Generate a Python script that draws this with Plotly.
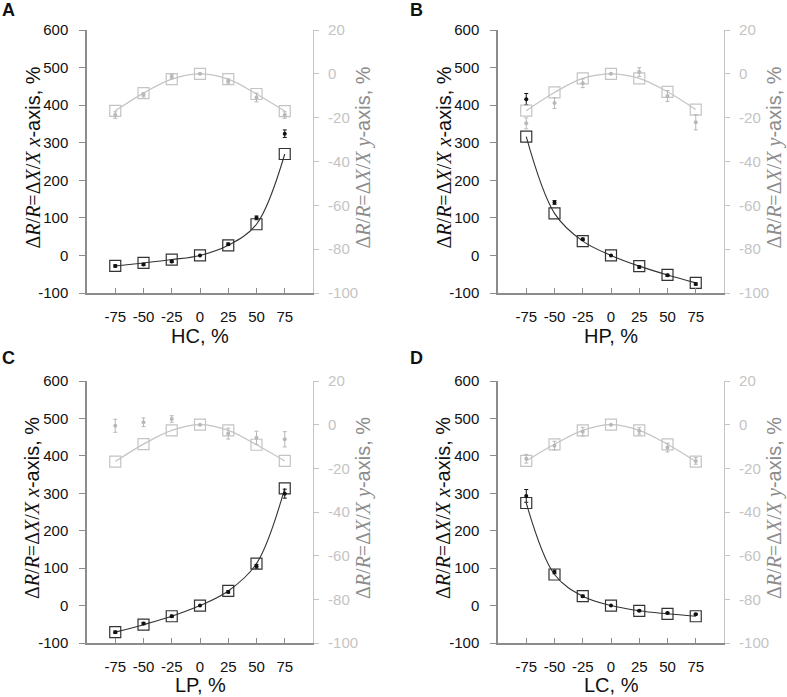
import plotly.graph_objects as go

W, H = 787, 697

x_vals = [-75, -50, -25, 0, 25, 50, 75]
panel_letters = ["A", "B", "C", "D"]
x_titles = ["HC, %", "HP, %", "LP, %", "LC, %"]

# model (squares) on left axis, x-axis change
model_x_A = [-28, -20, -11, 0, 27, 83, 270]
model_x_B = [316, 112, 38, 0, -28.5, -52, -73]
model_x_C = [-71, -51, -28.5, 0, 39, 112, 313]
model_x_D = [274, 83, 25, 0, -14, -22, -28.5]

# experiment (dots) on left axis
exp_x_A = [-28, -24, -16, 0, 30, 100, 324]
exp_x_A_err = [3, 3, 3, 0, 3, 5, 10]
exp_x_B = [416, 141, 43, 0, -31, -53, -76]
exp_x_B_err = [15, 5, 3, 0, 3, 3, 3]
exp_x_C = [-71, -48, -28.5, 0, 36.5, 105, 299]
exp_x_C_err = [3, 3, 3, 0, 3, 5, 12]
exp_x_D = [293, 90, 25, 0, -14, -20, -23]
exp_x_D_err = [17, 5, 3, 0, 2, 2, 2]

# model (squares) on right axis, y-axis change
model_y_A = [-16.9, -8.8, -2.4, 0, -2.4, -9.2, -17]
model_y_B = [-16.8, -8.5, -2.1, 0, -2.1, -8.2, -16.3]
model_y_C = [-16.9, -8.9, -2.6, 0, -2.6, -9.2, -16.6]
model_y_D = [-16.6, -9, -2.6, 0, -2.6, -9, -16.9]

# experiment (dots) on right axis
exp_y_A = [-18.8, -9.6, -1.3, 0, -3.3, -10.8, -18.8]
exp_y_A_err = [1.5, 1, 1, 0, 1, 2, 1.5]
exp_y_B = [-22.6, -13.3, -4.3, 0, 0.8, -10.1, -22.1]
exp_y_B_err = [2.5, 2.5, 2, 0, 2, 2.5, 3.5]
exp_y_C = [-0.5, 1.1, 2.6, 0, -4.1, -6, -6.7]
exp_y_C_err = [3, 2, 1.5, 0, 2.5, 3, 3.5]
exp_y_D = [-15.6, -9.6, -3.2, 0, -2.9, -10.5, -16.6]
exp_y_D_err = [2, 2, 2, 0, 1.5, 2, 1.5]

left_ticks = [-100, 0, 100, 200, 300, 400, 500, 600]
right_ticks = [-100, -80, -60, -40, -20, 0, 20]

panels = [
    (model_x_A, exp_x_A, exp_x_A_err, model_y_A, exp_y_A, exp_y_A_err),
    (model_x_B, exp_x_B, exp_x_B_err, model_y_B, exp_y_B, exp_y_B_err),
    (model_x_C, exp_x_C, exp_x_C_err, model_y_C, exp_y_C, exp_y_C_err),
    (model_x_D, exp_x_D, exp_x_D_err, model_y_D, exp_y_D, exp_y_D_err),
]

# pixel geometry of each plot area: (left, right, top, bottom)
geo = [(87, 313, 30, 293), (498, 724, 30, 293), (87, 313, 381, 643), (498, 724, 381, 643)]

GRAY = "#c4c4c4"
AXGRAY = "#8c8c8c"
SANS = "Liberation Sans, Arial, Helvetica, sans-serif"

fig = go.Figure()
layout = {}
annotations = []

def px(x):
    return x / W

def py(y):
    return 1 - y / H

for i, (mx, ex, exe, my, ey, eye) in enumerate(panels):
    xa = "x" if i == 0 else f"x{i+1}"
    ya1 = "y" if i == 0 else f"y{2*i+1}"
    ya2 = f"y{2*i+2}"
    L, R, T, B = geo[i]
    xkey = "xaxis" if i == 0 else f"xaxis{i+1}"
    y1key = "yaxis" if i == 0 else f"yaxis{2*i+1}"
    y2key = f"yaxis{2*i+2}"

    layout[xkey] = dict(
        domain=[px(L), px(R)], anchor=ya1, range=[-100, 100], automargin=False,
        tickvals=x_vals, ticktext=[str(v) for v in x_vals],
        ticks="inside", ticklen=5, tickcolor=AXGRAY, tickwidth=1,
        showline=True, linecolor=AXGRAY, linewidth=1.5,
        showgrid=False, zeroline=False, ticklabelstandoff=9,
        tickfont=dict(family=SANS, size=15, color="#111"),
    )
    layout[y1key] = dict(
        domain=[py(B), py(T)], anchor=xa, range=[-100, 600], automargin=False,
        tickvals=left_ticks, ticktext=[str(v) for v in left_ticks],
        ticks="outside", ticklen=6, tickcolor=AXGRAY,
        showline=True, linecolor=AXGRAY, linewidth=1.5,
        showgrid=False, zeroline=False, ticklabelstandoff=8,
        tickfont=dict(family=SANS, size=15, color="#111"),
    )
    layout[y2key] = dict(
        overlaying=ya1, anchor=xa, side="right", range=[-100, 20], automargin=False,
        tickvals=right_ticks, ticktext=[str(v) for v in right_ticks],
        ticks="outside", ticklen=5, tickcolor=GRAY,
        showline=True, linecolor=GRAY, linewidth=1.2,
        showgrid=False, zeroline=False, ticklabelstandoff=6,
        tickfont=dict(family=SANS, size=15, color=GRAY),
    )

    # gray: y-axis change
    fig.add_trace(go.Scatter(
        x=x_vals, y=my, xaxis=xa, yaxis=ya2, mode="lines+markers",
        line=dict(color=GRAY, width=1.2, shape="spline", smoothing=1.0),
        marker=dict(symbol="square-open", size=11, color=GRAY, line=dict(width=1.2, color=GRAY)),
        showlegend=False,
    ))
    fig.add_trace(go.Scatter(
        x=x_vals, y=ey, xaxis=xa, yaxis=ya2, mode="markers",
        marker=dict(symbol="circle", size=4, color="#b8b8b8"),
        error_y=dict(type="data", array=eye, color="#b8b8b8", thickness=1, width=2),
        showlegend=False,
    ))
    # black: x-axis change
    fig.add_trace(go.Scatter(
        x=x_vals, y=mx, xaxis=xa, yaxis=ya1, mode="lines+markers",
        line=dict(color="#333333", width=1.1, shape="spline", smoothing=1.0),
        marker=dict(symbol="square-open", size=11, color="#333333", line=dict(width=1.2, color="#333333")),
        showlegend=False,
    ))
    fig.add_trace(go.Scatter(
        x=x_vals, y=ex, xaxis=xa, yaxis=ya1, mode="markers",
        marker=dict(symbol="circle", size=4, color="#111"),
        error_y=dict(type="data", array=exe, color="#111", thickness=1, width=2),
        showlegend=False,
    ))

    # panel letter
    lx = 0 if i % 2 == 0 else 408
    ly = 10 if i < 2 else 358
    annotations.append(dict(
        text=f"<b>{panel_letters[i]}</b>", x=px(lx), y=py(ly), xref="paper", yref="paper",
        xanchor="left", yanchor="middle", showarrow=False,
        font=dict(family=SANS, size=18, color="#111"),
    ))
    # x title
    if i < 2:
        ty, tanchor = py(B + 43), "middle"
    else:
        ty, tanchor = 0, "bottom"
    annotations.append(dict(
        text=x_titles[i], x=px((L + R) / 2), y=ty, xref="paper", yref="paper",
        xanchor="center", yanchor=tanchor, showarrow=False, borderpad=0,
        font=dict(family=SANS, size=20, color="#111"),
    ))
    ymid = (T + B) / 2 - 4
    left_title = ("<span style=\"font-family:'Liberation Serif'\">Δ<i>R</i>/<i>R</i>=Δ<i>X</i>/<i>X</i> <i>x</i></span>-axis, %")
    right_title = ("<span style=\"font-family:'Liberation Serif'\">Δ<i>R</i>/<i>R</i>=Δ<i>X</i>/<i>X</i> <i>y</i></span>-axis, %")
    annotations.append(dict(
        text=left_title, x=px(L - 55), y=py(ymid), xref="paper", yref="paper",
        xanchor="center", yanchor="middle", textangle=-90, showarrow=False,
        font=dict(family=SANS, size=20, color="#111"),
    ))
    annotations.append(dict(
        text=right_title, x=px(R + 50), y=py(ymid), xref="paper", yref="paper",
        xanchor="center", yanchor="middle", textangle=-90, showarrow=False,
        font=dict(family=SANS, size=20, color=AXGRAY),
    ))

fig.update_layout(
    width=W, height=H, margin=dict(l=0, r=0, t=0, b=0, autoexpand=False),
    paper_bgcolor="white", plot_bgcolor="white",
    annotations=annotations, **layout,
)

fig.write_html(
    "out.html",
    config={"displayModeBar": False},
    post_script="document.body.style.margin='0';document.body.style.overflow='hidden';",
)
